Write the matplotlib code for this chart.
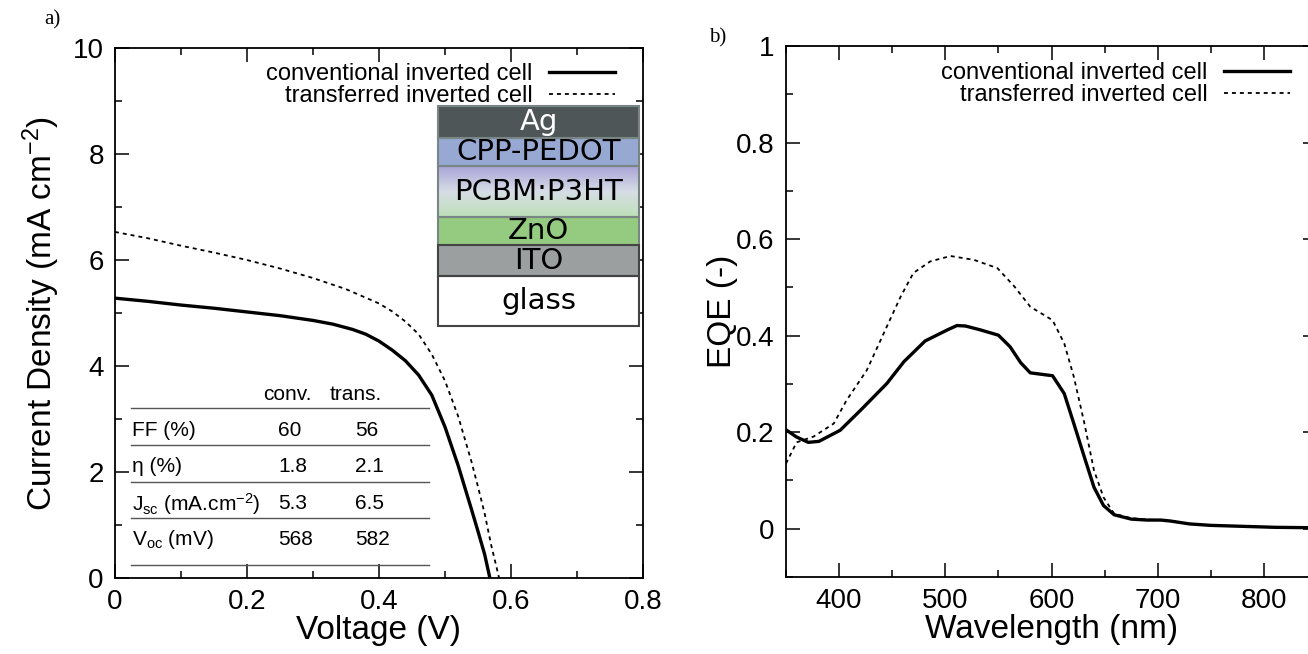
import numpy as np
import matplotlib
matplotlib.use("Agg")
import matplotlib.pyplot as plt
from matplotlib.ticker import MultipleLocator, FuncFormatter
from matplotlib.patches import Rectangle

plt.rcParams['font.family'] = ['Liberation Sans', 'DejaVu Sans']
plt.rcParams['mathtext.default'] = 'regular'

# J-V data
v_conv = [0, 0.05, 0.1, 0.15, 0.2, 0.25, 0.3, 0.33, 0.36, 0.38, 0.4, 0.42, 0.44, 0.46, 0.48, 0.5,
          0.52, 0.54, 0.55, 0.56, 0.568]
j_conv = [5.28, 5.22, 5.15, 5.09, 5.02, 4.95, 4.86, 4.79, 4.69, 4.6, 4.47, 4.3, 4.1, 3.83, 3.45, 2.85,
          2.12, 1.3, 0.88, 0.45, 0.0]
v_trans = [0, 0.05, 0.1, 0.15, 0.2, 0.25, 0.3, 0.35, 0.4, 0.42, 0.44, 0.46, 0.48, 0.5, 0.52, 0.54,
           0.55, 0.56, 0.57, 0.582]
j_trans = [6.53, 6.41, 6.27, 6.14, 6.0, 5.84, 5.66, 5.45, 5.18, 5.03, 4.84, 4.6, 4.22, 3.72, 3.05, 2.2,
           1.72, 1.22, 0.62, 0.0]

# EQE data
wl_conv = [350, 360, 371, 381, 401, 420, 445, 461, 481, 502, 511, 519, 533, 550, 561, 571, 580,
           601, 612, 621, 631, 640, 649, 659, 675, 690, 703, 712, 730, 750, 780, 810, 850]
eqe_conv = [0.205, 0.19, 0.179, 0.181, 0.204, 0.245, 0.301, 0.346, 0.389, 0.412, 0.421, 0.42, 0.412,
            0.401, 0.377, 0.344, 0.323, 0.317, 0.28, 0.218, 0.148, 0.086, 0.048, 0.029, 0.02, 0.018,
            0.018, 0.016, 0.01, 0.007, 0.005, 0.003, 0.002]
wl_trans = [350, 360, 376, 395, 407, 426, 445, 458, 470, 486, 505, 527, 549, 565, 580, 601, 612,
            621, 631, 640, 649, 659, 675, 690, 703, 712, 730, 750, 780, 810, 850]
eqe_trans = [0.135, 0.179, 0.191, 0.218, 0.266, 0.328, 0.419, 0.481, 0.53, 0.554, 0.565, 0.557, 0.54,
             0.502, 0.46, 0.432, 0.384, 0.315, 0.218, 0.121, 0.065, 0.031, 0.022, 0.019, 0.018, 0.016,
             0.01, 0.007, 0.005, 0.003, 0.002]

labels = ["conventional inverted cell", "transferred inverted cell"]

# table in panel a
row_labels = ["FF (%)", "η (%)", r"J$_{sc}$ (mA.cm$^{-2}$)", r"V$_{oc}$ (mV)"]
conv_vals = ["60", "1.8", "5.3", "568"]
trans_vals = ["56", "2.1", "6.5", "582"]

# device stack
layer_names = ["Ag", "CPP-PEDOT", "PCBM:P3HT", "ZnO", "ITO", "glass"]
layer_colors = ["#4f5657", "#97a9d3", None, "#94cb80", "#9b9f9f", "#ffffff"]
layer_text = ["white", "black", "black", "black", "black", "black"]
layer_px = [32, 28, 51, 28, 31, 50]

fig = plt.figure(figsize=(13.08, 6.54), dpi=100)
ax1 = fig.add_axes([0.0879, 0.1162, 0.4037, 0.8104])
ax2 = fig.add_axes([0.6009, 0.1177, 0.406, 0.8119])

fmt = FuncFormatter(lambda v, p: "%g" % v)
for ax in (ax1, ax2):
    ax.tick_params(which='both', direction='in', top=True, right=True, width=1.1, labelsize=20, pad=8)
    ax.tick_params(which='major', length=10)
    ax.tick_params(which='minor', length=5)
    for s in ax.spines.values():
        s.set_linewidth(1.3)
    ax.xaxis.set_major_formatter(fmt)
    ax.yaxis.set_major_formatter(fmt)

# panel a
ax1.plot(v_conv, j_conv, color='black', lw=2.4, label=labels[0])
ax1.plot(v_trans, j_trans, color='black', lw=1.3, dashes=(2.2, 2.2), label=labels[1])
ax1.set_xlim(0, 0.8)
ax1.set_ylim(0, 10)
ax1.xaxis.set_major_locator(MultipleLocator(0.2))
ax1.xaxis.set_minor_locator(MultipleLocator(0.1))
ax1.yaxis.set_major_locator(MultipleLocator(2))
ax1.yaxis.set_minor_locator(MultipleLocator(1))
ax1.set_xlabel("Voltage (V)", fontsize=24)
ax1.set_ylabel(r"Current Density (mA cm$^{-2}$)", fontsize=24)
ax1.xaxis.set_label_coords(0.5, -0.07)
ax1.yaxis.set_label_coords(-0.1, 0.5)
ax1.legend(loc='upper right', bbox_to_anchor=(0.947, 0.972), frameon=False, fontsize=17,
           handlelength=2.8, handletextpad=0.7, labelspacing=0.0, borderaxespad=0, borderpad=0,
           markerfirst=False)

# table
row_y = [0.279, 0.2095, 0.14, 0.072]
line_y = [0.321, 0.251, 0.182, 0.113, 0.0245]
ax1.text(0.28, 0.347, "conv.", transform=ax1.transAxes, fontsize=15, va='center')
ax1.text(0.407, 0.347, "trans.", transform=ax1.transAxes, fontsize=15, va='center')
for lab, c, t, y in zip(row_labels, conv_vals, trans_vals, row_y):
    ax1.text(0.032, y, lab, transform=ax1.transAxes, fontsize=15, va='center')
    ax1.text(0.309, y, c, transform=ax1.transAxes, fontsize=15, va='center')
    ax1.text(0.4545, y, t, transform=ax1.transAxes, fontsize=15, va='center')
for y in line_y:
    ax1.plot([0.03, 0.595], [y, y], transform=ax1.transAxes, color='#555555', lw=1.0)

# device stack inset
ins = ax1.inset_axes([0.612, 0.4755, 0.380, 0.415])
total = sum(layer_px)
ins.axis('off')
top = total
for name, col, tcol, h in zip(layer_names, layer_colors, layer_text, layer_px):
    y0 = top - h
    if col is None:
        cmap = matplotlib.colors.LinearSegmentedColormap.from_list(
            "pcbm", ["#bfe0b8", "#d6dde6", "#aaa4d8"])
        g = np.linspace(0, 1, 100).reshape(-1, 1)
        ins.imshow(g, cmap=cmap, aspect='auto', extent=(0, 1, y0, top), origin='lower', zorder=1)
    else:
        ins.add_patch(Rectangle((0, y0), 1, h, facecolor=col, edgecolor='none', zorder=1))
    edge = '#444444' if name in ("ITO", "glass") else '#7a8686'
    ins.add_patch(Rectangle((0, y0), 1, h, facecolor='none', edgecolor=edge, lw=1.5, zorder=2,
                            clip_on=False))
    ins.text(0.5, y0 + h / 2, name, ha='center', va='center', fontsize=21, color=tcol,
             family='DejaVu Sans', zorder=3)
    top = y0
ins.set_xlim(0, 1)
ins.set_ylim(0, total)

# panel b
ax2.plot(wl_conv, eqe_conv, color='black', lw=2.4, label=labels[0])
ax2.plot(wl_trans, eqe_trans, color='black', lw=1.3, dashes=(2.2, 2.2), label=labels[1])
ax2.set_xlim(350, 850)
ax2.set_ylim(-0.1, 1.0)
ax2.xaxis.set_major_locator(MultipleLocator(100))
ax2.xaxis.set_minor_locator(MultipleLocator(50))
ax2.yaxis.set_major_locator(MultipleLocator(0.2))
ax2.yaxis.set_minor_locator(MultipleLocator(0.1))
ax2.set_xlabel("Wavelength (nm)", fontsize=24)
ax2.set_ylabel("EQE (-)", fontsize=24)
ax2.xaxis.set_label_coords(0.5, -0.07)
ax2.yaxis.set_label_coords(-0.09, 0.5)
ax2.legend(loc='upper right', bbox_to_anchor=(0.949, 0.97), frameon=False, fontsize=17,
           handlelength=2.8, handletextpad=0.7, labelspacing=0.0, borderaxespad=0, borderpad=0,
           markerfirst=False)

fig.text(0.034, 0.969, "a)", fontsize=15, family='Liberation Serif', ha='left', va='center')
fig.text(0.542, 0.942, "b)", fontsize=15, family='Liberation Serif', ha='left', va='center')

fig.savefig("out.png", dpi=100)
